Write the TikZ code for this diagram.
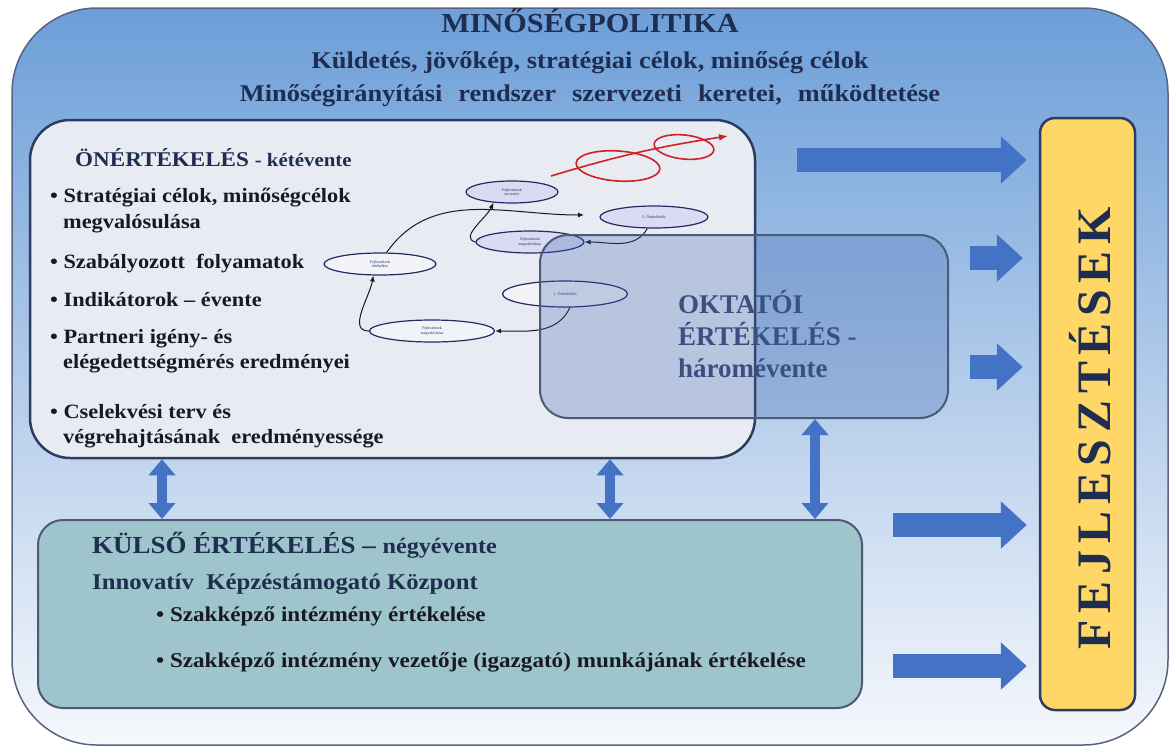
\documentclass[tikz,border=0pt]{standalone}
\usepackage{fontspec}
\setmainfont{Liberation Serif}
\newfontfamily\wideserif{Liberation Serif}[FakeStretch=1.1]
\usetikzlibrary{arrows.meta,shapes.geometric}
\definecolor{navy}{RGB}{31,45,80}
\definecolor{ink}{RGB}{25,25,35}
\definecolor{bluebg}{RGB}{108,158,216}
\definecolor{whitebg}{RGB}{246,248,252}
\definecolor{boxline}{RGB}{45,60,95}
\definecolor{greybox}{RGB}{232,235,241}
\definecolor{tealbox}{RGB}{158,197,204}
\definecolor{yellowbox}{RGB}{255,215,102}
\definecolor{arrowblue}{RGB}{68,114,196}
\definecolor{oktext}{RGB}{58,80,128}
\definecolor{redloop}{RGB}{205,35,40}
\definecolor{cycline}{RGB}{40,40,105}
\definecolor{lavender}{RGB}{212,216,242}
\tikzset{
  panel/.style={draw=boxline, line width=2.5pt, rectangle, inner sep=0pt},
  bigarrow/.style={draw=arrowblue, line width=24pt, -{Triangle[length=26pt,width=46pt]}},
  dblarrow/.style={draw=arrowblue, line width=10pt, {Triangle[length=16pt,width=26pt]}-{Triangle[length=16pt,width=26pt]}},
  cyc/.style={ellipse, draw=cycline, line width=1.2pt, fill=white, fill opacity=0.4, text opacity=1, inner sep=0pt, text=cycline, font=\fontsize{4}{4.5}\selectfont, align=center},
  cyclav/.style={cyc, fill=lavender, fill opacity=0.8},
  cycarrow/.style={draw=ink, line width=1pt, -{Latex[length=6pt,width=5pt]}},
  bul/.style={anchor=base west, text=ink, font=\wideserif\bfseries\fontsize{20.3}{22}\selectfont, inner sep=0pt},
  kbul/.style={anchor=base west, text=ink, font=\wideserif\bfseries\fontsize{21}{22}\selectfont, inner sep=0pt},
  head/.style={anchor=base, text=navy, inner sep=0pt},
  oktstyle/.style={anchor=base west, inner sep=0pt, text=oktext, font=\bfseries\fontsize{27}{30}\selectfont},
}
\begin{document}
\begin{tikzpicture}[x=1pt,y=-1pt]
\useasboundingbox (0,0) rectangle (1176,753);
\fill[white] (0,0) rectangle (1176,753);
% outer frame
\node[panel, draw=boxline!80, line width=1.5pt, rounded corners=85pt, minimum width=1156pt, minimum height=737pt, top color=bluebg, bottom color=whitebg] (outer) at (590,376.5) {};
\node[head, font=\wideserif\bfseries\fontsize{27.5}{30}\selectfont] (title) at (590,32) {MINŐSÉGPOLITIKA};
\node[head, font=\wideserif\bfseries\fontsize{24}{26}\selectfont] (sub1) at (590,68) {Küldetés, jövőkép, stratégiai célok, minőség célok};
\node[head, font=\wideserif\bfseries\fontsize{24}{26}\selectfont] (sub2) at (590,101) {Minőségirányítási\hskip 16pt rendszer\hskip 16pt szervezeti\hskip 16pt keretei,\hskip 16pt működtetése};
% self-assessment panel
\node[panel, rounded corners=40pt, minimum width=725pt, minimum height=338pt, fill=greybox] (onert) at (392.5,289) {};
\node[anchor=base west, inner sep=0pt, text=navy, font=\wideserif\bfseries\fontsize{21}{24}\selectfont] (onerttitle) at (75,166) {ÖNÉRTÉKELÉS \fontsize{19}{22}\selectfont - kétévente};
\node[bul] (b1) at (50,202) {• Stratégiai célok, minőségcélok};
\node[bul] (b1b) at (63,228) {megvalósulása};
\node[bul] (b2) at (50,268) {• Szabályozott\ \ folyamatok};
\node[bul] (b3) at (50,306) {• Indikátorok – évente};
\node[bul] (b4) at (50,343) {• Partneri igény- és};
\node[bul] (b4b) at (63,368) {elégedettségmérés eredményei};
\node[bul] (b5) at (50,418) {• Cselekvési terv és};
\node[bul] (b5b) at (63,443) {végrehajtásának\ \ eredményessége};
% cycle
\node[cyclav, minimum width=92pt, minimum height=22pt] (cA) at (512,192) {Fejlesztések\\tervezése};
\node[cyclav, minimum width=108pt, minimum height=22pt] (cB) at (654,217) {2. Önértékelés};
\node[cyclav, minimum width=108pt, minimum height=22pt] (cC) at (530,242) {Fejlesztések\\megvalósítása};
\node[cyc, minimum width=112pt, minimum height=22pt] (cD) at (380,264) {Fejlesztések\\értékelése};
\node[cyc, minimum width=125pt, minimum height=26pt] (cE) at (565,294) {1. Önértékelés};
\node[cyc, minimum width=125pt, minimum height=22pt] (cF) at (432,331) {Fejlesztések\\megvalósítása};
\coordinate (cBin) at (584,215);
\draw[cycarrow] (cE.-70) to[out=-115,in=0] (cF.east);
\draw[cycarrow] (cF.west) to[out=180,in=-100] (cD.-120);
\draw[cycarrow] (cD.60) to[out=55,in=180] (cBin);
\draw[cycarrow] (cB.-120) to[out=-120,in=0] (cC.east);
\draw[cycarrow] (cC.west) to[out=165,in=-115] (cA.-150);
% red spiral
\coordinate (rs) at (551,176);
\coordinate (re) at (728,136);
\draw[redloop, line width=1.6pt, -{Latex[length=9pt,width=7pt]}] (rs) to[bend left=4] (re);
\draw[redloop, line width=1.6pt, rotate around={-4:(618,166)}] (618,166) ellipse (42pt and 15pt);
\draw[redloop, line width=1.6pt, rotate around={-6:(684,147)}] (684,147) ellipse (30pt and 12pt);
% teacher evaluation panel (translucent)
\node[panel, draw=boxline!85, line width=2pt, rounded corners=28pt, minimum width=408pt, minimum height=183pt, fill={rgb,255:red,60;green,100;blue,175}, fill opacity=0.28] (oktat) at (744,326.5) {};
\node[oktstyle] (ok1) at (678,313) {OKTATÓI};
\node[oktstyle] (ok2) at (678,345) {ÉRTÉKELÉS -};
\node[oktstyle] (ok3) at (678,377) {háromévente};
% external evaluation panel
\node[panel, draw=boxline!85, line width=2pt, rounded corners=25pt, minimum width=824pt, minimum height=188pt, fill=tealbox] (kulso) at (450,614) {};
\node[anchor=base west, inner sep=0pt, text=navy, font=\wideserif\bfseries\fontsize{24.5}{26}\selectfont] (kt1) at (92,553) {KÜLSŐ ÉRTÉKELÉS – \fontsize{22}{24}\selectfont négyévente};
\node[anchor=base west, inner sep=0pt, text=navy, font=\wideserif\bfseries\fontsize{22.5}{24}\selectfont] (kt2) at (92,589) {Innovatív\ \ Képzéstámogató Központ};
\node[kbul] (kb1) at (156,621) {• Szakképző intézmény értékelése};
\node[kbul] (kb2) at (156,667) {• Szakképző intézmény vezetője (igazgató) munkájának értékelése};
% developments panel
\node[panel, rounded corners=15pt, minimum width=95pt, minimum height=592pt, fill=yellowbox] (fejl) at (1087.5,414) {};
\node[rotate=90, text=navy, inner sep=0pt, font=\bfseries\fontsize{48}{50}\selectfont\addfontfeatures{LetterSpace=14}] (fejltext) at (1090,428) {FEJLESZTÉSEK};
% horizontal block arrows
\coordinate (a1s) at (797,160);
\coordinate (a2s) at (970,258);
\coordinate (a3s) at (970,367);
\coordinate (a4s) at (893,525);
\coordinate (a5s) at (893,666);
\draw[bigarrow] (a1s) -- ([xshift=-12pt]fejl.west |- a1s);
\draw[bigarrow] (a2s) -- ([xshift=-16pt]fejl.west |- a2s);
\draw[bigarrow] (a3s) -- ([xshift=-16pt]fejl.west |- a3s);
\draw[bigarrow] (a4s) -- ([xshift=-12pt]fejl.west |- a4s);
\draw[bigarrow] (a5s) -- ([xshift=-12pt]fejl.west |- a5s);
% vertical double arrows
\draw[dblarrow] (onert.south -| 162,0) -- (kulso.north -| 162,0);
\draw[dblarrow] (onert.south -| 610,0) -- (kulso.north -| 610,0);
\draw[dblarrow] (oktat.south -| 815,0) -- (kulso.north -| 815,0);
\end{tikzpicture}
\end{document}
